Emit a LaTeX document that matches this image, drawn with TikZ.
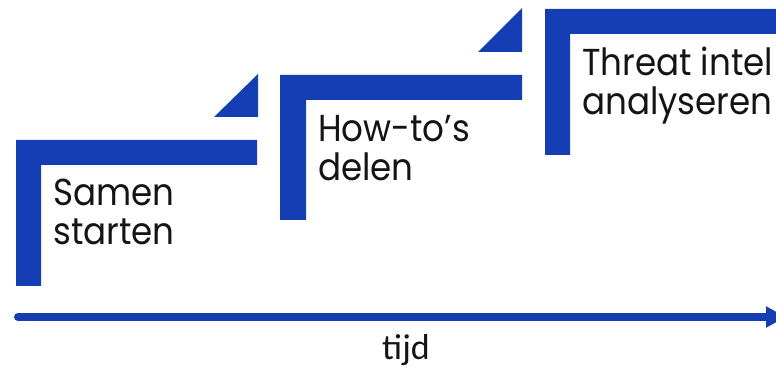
\documentclass[tikz,border=0pt]{standalone}
\usepackage{fontspec}
\setmainfont[FakeStretch=0.91]{Poppins}
\newfontfamily\axisfont{Carlito}
\usetikzlibrary{arrows.meta}
\definecolor{stepblue}{RGB}{22,62,180}
\tikzset{
  x=1pt, y=-1pt,
  stepbar/.style={fill=stepblue, draw=none},
  steplabel/.style={anchor=base west, inner sep=0pt, align=left,
    font=\fontsize{37.5}{39.5}\selectfont, text=black!92},
  timeline/.style={draw=stepblue, line width=8pt, line cap=round,
    -{Triangle[length=20pt, width=20pt]}},
}
\begin{document}
\begin{tikzpicture}
  \useasboundingbox (0,0) rectangle (776,371);
  \clip (0,0) rectangle (776,371);

  % step 1
  \fill[stepbar] (16,140) -- (257,140) -- (257,165) -- (41,165) -- (41,286) -- (16,286) -- cycle;
  \fill[stepbar] (214,117) -- (258,117) -- (258,74) -- cycle;
  \node[steplabel] (s1) at (53,245) {Samen\\starten};

  % step 2
  \fill[stepbar] (280,75) -- (522,75) -- (522,100) -- (306,100) -- (306,220) -- (280,220) -- cycle;
  \fill[stepbar] (478,52) -- (522,52) -- (522,8) -- cycle;
  \node[steplabel] (s2) at (318,181) {How-to’s\\delen};

  % step 3
  \fill[stepbar] (545,9) -- (790,9) -- (790,34) -- (570,34) -- (570,155) -- (545,155) -- cycle;
  \node[steplabel] (s3) at (582,115) {Threat intel\\analyseren};

  % time axis
  \coordinate (t0) at (18,317);
  \coordinate (t1) at (786,317);
  \draw[timeline] (t0) -- (t1);
  \node[anchor=base, inner sep=0pt, font=\axisfont\fontsize{36}{36}\selectfont, text=black!92] (tijd) at (406,359) {tijd};
\end{tikzpicture}
\end{document}
